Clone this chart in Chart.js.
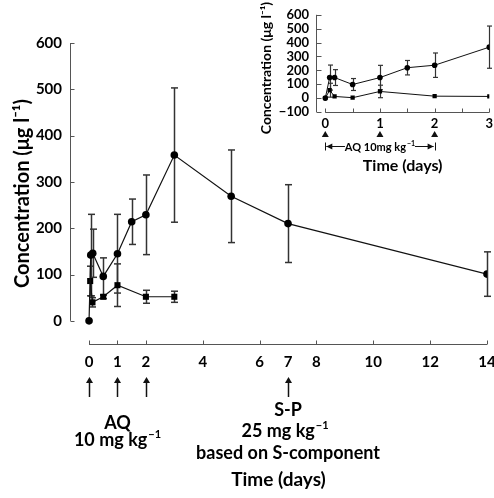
<!DOCTYPE html>
<html>
<head>
<meta charset="utf-8">
<script src="https://cdn.jsdelivr.net/npm/chart.js@4.4.1/dist/chart.umd.min.js"></script>
<style>
    html, body { margin: 0; padding: 0; background: #fff; }
    #wrap { position: relative; width: 494px; height: 498px; }
    #mainChart { position: absolute; left: 0; top: 0; }
    #insetChart { position: absolute; left: 240px; top: 0; }
</style>
</head>
<body>
<div id="wrap">
    <canvas id="mainChart" width="494" height="498"></canvas>
    <canvas id="insetChart" width="254" height="180"></canvas>
</div>
<script>
// Main panel (0-14 days)
const mainCircleDays = [0, 0.06, 0.13, 0.5, 1, 1.5, 2, 3, 5, 7, 14];
const mainCircleConc = [0, 142, 146, 96, 145, 214, 229, 358, 269, 210, 101];
const mainCircleSd = [0, 88, 52, 40, 85, 49, 86, 145, 100, 84, 48];

const mainSquareDays = [0.04, 0.12, 0.5, 1, 2, 3];
const mainSquareConc = [86, 40, 52, 77, 52, 52];
const mainSquareSd = [32, 10, 4, 46, 14, 12];

const mainXTicks = [0, 1, 2, 4, 6, 7, 8, 10, 12, 14];
const mainXMarks = [0, 1, 2, 4, 6, 8, 10, 12, 14];
const mainYTicks = [0, 100, 200, 300, 400, 500, 600];

// Inset panel (0-3 days)
const insetCircleDays = [0, 0.08, 0.17, 0.5, 1, 1.5, 2, 3];
const insetCircleConc = [0, 148, 148, 98, 148, 219, 237, 367];
const insetCircleSd = [0, 90, 57, 43, 88, 52, 88, 152];

const insetSquareDays = [0, 0.08, 0.17, 0.5, 1, 2, 3];
const insetSquareConc = [0, 57, 12, 3, 48, 14, 12];
const insetSquareSd = [0, 50, 0, 0, 45, 0, 0];

const insetXTicks = [0, 1, 2, 3];
const insetXMarks = [0, 0.5, 1, 1.5, 2, 2.5, 3];
const insetYTicks = [-100, 0, 100, 200, 300, 400, 500, 600];

const aqDoseDays = [0, 1, 2];
const spDoseDay = 7;

const FONT = 'Lato';
const yTitle = 'Concentration (μg l⁻¹)';
Chart.defaults.font.family = FONT;
Chart.defaults.color = '#000';

function toPoints(xs, ys) {
    return xs.map((x, i) => ({ x: x, y: ys[i] }));
}

function strokeLine(ctx, x1, y1, x2, y2) {
    ctx.beginPath();
    ctx.moveTo(x1, y1);
    ctx.lineTo(x2, y2);
    ctx.stroke();
}

// text with a raised "−1" after it, centred on cx, baseline at by
function supText(ctx, base, sup, cx, by, size) {
    const supSize = Math.round(size * 0.62);
    ctx.font = 'bold ' + size + 'px ' + FONT;
    const w1 = ctx.measureText(base).width;
    ctx.font = 'bold ' + supSize + 'px ' + FONT;
    const w2 = ctx.measureText(sup).width;
    const left = cx - (w1 + w2 + 1) / 2;
    ctx.textAlign = 'left';
    ctx.textBaseline = 'alphabetic';
    ctx.font = 'bold ' + size + 'px ' + FONT;
    ctx.fillText(base, left, by);
    ctx.font = 'bold ' + supSize + 'px ' + FONT;
    ctx.fillText(sup, left + w1 + 1, by - size * 0.42);
}

function plainText(ctx, text, cx, by, size) {
    ctx.font = 'bold ' + size + 'px ' + FONT;
    ctx.textAlign = 'center';
    ctx.textBaseline = 'alphabetic';
    ctx.fillText(text, cx, by);
}

// error bars drawn under the markers
const errorBars = {
    id: 'errorBars',
    beforeDatasetsDraw(chart) {
        const ctx = chart.ctx;
        const xs = chart.scales.x;
        const ys = chart.scales.y;
        chart.data.datasets.forEach(ds => {
            ctx.save();
            ctx.strokeStyle = '#333';
            ctx.lineWidth = ds.errWidth;
            ds.data.forEach((p, i) => {
                const sd = ds.sd[i];
                if (!sd) return;
                const px = Math.round(xs.getPixelForValue(p.x)) + 0.5;
                const top = ys.getPixelForValue(p.y + sd);
                const bot = ys.getPixelForValue(p.y - sd);
                strokeLine(ctx, px, top, px, bot);
                strokeLine(ctx, px - ds.cap, top, px + ds.cap, top);
                strokeLine(ctx, px - ds.cap, bot, px + ds.cap, bot);
            });
            ctx.restore();
        });
    }
};

const mainDecor = {
    id: 'mainDecor',
    afterDraw(chart) {
        const ctx = chart.ctx;
        const a = chart.chartArea;
        const x = chart.scales.x;
        const y = chart.scales.y;
        ctx.save();
        ctx.strokeStyle = '#555';
        ctx.lineWidth = 1;

        const yl = Math.round(a.left) + 0.5;
        strokeLine(ctx, yl, y.getPixelForValue(600), yl, y.getPixelForValue(0));
        mainYTicks.forEach(v => {
            const py = Math.round(y.getPixelForValue(v)) + 0.5;
            strokeLine(ctx, yl, py, yl + 4, py);
        });

        const xb = Math.round(a.bottom) + 0.5;
        strokeLine(ctx, x.getPixelForValue(0), xb, x.getPixelForValue(14), xb);
        mainXMarks.forEach(v => {
            const px = Math.round(x.getPixelForValue(v)) + 0.5;
            strokeLine(ctx, px, xb, px, xb - 4);
        });

        // dose arrows
        ctx.strokeStyle = '#111';
        ctx.fillStyle = '#111';
        ctx.lineWidth = 1.5;
        aqDoseDays.concat([spDoseDay]).forEach(d => {
            const px = Math.round(x.getPixelForValue(d)) + 0.5;
            const t = a.bottom + 33;
            strokeLine(ctx, px, t + 4, px, a.bottom + 53);
            ctx.beginPath();
            ctx.moveTo(px, t);
            ctx.lineTo(px - 3.5, t + 6);
            ctx.lineTo(px + 3.5, t + 6);
            ctx.closePath();
            ctx.fill();
        });

        ctx.fillStyle = '#000';
        const aqX = x.getPixelForValue(1);
        const spX = x.getPixelForValue(spDoseDay);
        plainText(ctx, 'AQ', aqX, a.bottom + 85, 18);
        supText(ctx, '10 mg kg', '−1', aqX, a.bottom + 102, 18);
        plainText(ctx, 'S-P', spX, a.bottom + 72, 18);
        supText(ctx, '25 mg kg', '−1', spX - 3, a.bottom + 93, 18);
        plainText(ctx, 'based on S-component', spX, a.bottom + 115, 18);
        ctx.restore();
    }
};

const insetDecor = {
    id: 'insetDecor',
    afterDraw(chart) {
        const ctx = chart.ctx;
        const a = chart.chartArea;
        const x = chart.scales.x;
        const y = chart.scales.y;
        ctx.save();
        ctx.strokeStyle = '#555';
        ctx.lineWidth = 1;

        const yl = Math.round(a.left) + 0.5;
        strokeLine(ctx, yl, y.getPixelForValue(600), yl, y.getPixelForValue(-100));
        insetYTicks.forEach(v => {
            const py = Math.round(y.getPixelForValue(v)) + 0.5;
            strokeLine(ctx, yl, py, yl + 5, py);
        });

        const xb = Math.round(a.bottom) + 0.5;
        strokeLine(ctx, x.getPixelForValue(0), xb, x.getPixelForValue(3), xb);
        insetXMarks.forEach(v => {
            const px = Math.round(x.getPixelForValue(v)) + 0.5;
            strokeLine(ctx, px, xb, px, xb - 4);
        });

        // y title, placed a little lower than the axis centre as in the original
        ctx.save();
        ctx.fillStyle = '#000';
        ctx.translate(26, 68);
        ctx.rotate(-Math.PI / 2);
        ctx.font = 'bold 14px ' + FONT;
        ctx.textAlign = 'center';
        ctx.textBaseline = 'middle';
        ctx.fillText(yTitle, 0, 0);
        ctx.restore();

        // dose triangles
        ctx.fillStyle = '#111';
        aqDoseDays.forEach(d => {
            const px = x.getPixelForValue(d);
            ctx.beginPath();
            ctx.moveTo(px, a.bottom + 19);
            ctx.lineTo(px - 3.5, a.bottom + 25);
            ctx.lineTo(px + 3.5, a.bottom + 25);
            ctx.closePath();
            ctx.fill();
        });

        // |<-- AQ 10mg kg-1 -->|
        const by = a.bottom + 34.5;
        const x0 = x.getPixelForValue(0);
        const x2 = x.getPixelForValue(2);
        const cx = x.getPixelForValue(1);
        ctx.strokeStyle = '#111';
        ctx.lineWidth = 1;
        strokeLine(ctx, Math.round(x0) + 0.5, by - 4, Math.round(x0) + 0.5, by + 4);
        strokeLine(ctx, Math.round(x2) + 0.5, by - 4, Math.round(x2) + 0.5, by + 4);
        ctx.fillStyle = '#000';
        supText(ctx, 'AQ 10mg kg', '−1', cx, by + 4, 11);
        const textHalf = 35;
        strokeLine(ctx, x0 + 1, by, cx - textHalf, by);
        strokeLine(ctx, cx + textHalf, by, x2 - 1, by);
        ctx.fillStyle = '#111';
        ctx.beginPath();
        ctx.moveTo(x0 + 1, by);
        ctx.lineTo(x0 + 7, by - 3);
        ctx.lineTo(x0 + 7, by + 3);
        ctx.closePath();
        ctx.fill();
        ctx.beginPath();
        ctx.moveTo(x2 - 1, by);
        ctx.lineTo(x2 - 7, by - 3);
        ctx.lineTo(x2 - 7, by + 3);
        ctx.closePath();
        ctx.fill();
        ctx.restore();
    }
};

function seriesStyle(style, radius, lineWidth, sd, cap, errWidth) {
    return {
        showLine: true,
        borderColor: '#111',
        borderWidth: lineWidth,
        backgroundColor: '#000',
        pointStyle: style,
        pointRadius: radius,
        pointBackgroundColor: '#000',
        pointBorderColor: '#000',
        pointBorderWidth: 0,
        tension: 0,
        sd: sd,
        cap: cap,
        errWidth: errWidth
    };
}

function drawCharts() {
    new Chart(document.getElementById('mainChart'), {
        type: 'scatter',
        data: {
            datasets: [
                Object.assign({ label: 'Circles', data: toPoints(mainCircleDays, mainCircleConc) },
                    seriesStyle('circle', 3.8, 1.2, mainCircleSd, 3.5, 1.5)),
                Object.assign({ label: 'Squares', data: toPoints(mainSquareDays, mainSquareConc) },
                    seriesStyle('rect', 4.3, 1.2, mainSquareSd, 3.5, 1.5))
            ]
        },
        options: {
            responsive: false,
            animation: false,
            layout: { padding: { top: 43, right: 7, left: 0, bottom: 0 } },
            plugins: { legend: { display: false }, tooltip: { enabled: false } },
            scales: {
                x: {
                    type: 'linear',
                    min: -0.67,
                    max: 14,
                    grid: { display: false, drawTicks: false },
                    border: { display: false },
                    afterBuildTicks: s => { s.ticks = mainXTicks.map(v => ({ value: v })); },
                    afterFit: s => { s.height = 154; s.paddingLeft = 0; s.paddingRight = 0; },
                    ticks: {
                        padding: 9,
                        autoSkip: false,
                        maxRotation: 0,
                        font: { size: 15, weight: 'bold' },
                        callback: v => String(v)
                    },
                    title: {
                        display: true,
                        text: 'Time (days)',
                        font: { size: 19, weight: 'bold' },
                        padding: { top: 0, bottom: 7 }
                    }
                },
                y: {
                    type: 'linear',
                    min: -50,
                    max: 600,
                    grid: { display: false, drawTicks: false },
                    border: { display: false },
                    afterBuildTicks: s => { s.ticks = mainYTicks.map(v => ({ value: v })); },
                    afterFit: s => { s.width = 70; },
                    ticks: {
                        padding: 8,
                        autoSkip: false,
                        font: { size: 15, weight: 'bold' },
                        callback: v => String(v)
                    },
                    title: {
                        display: true,
                        text: yTitle,
                        font: { size: 20, weight: 'bold' },
                        padding: { top: 11, bottom: 0 }
                    }
                }
            }
        },
        plugins: [errorBars, mainDecor]
    });

    new Chart(document.getElementById('insetChart'), {
        type: 'scatter',
        data: {
            datasets: [
                Object.assign({ label: 'Circles', data: toPoints(insetCircleDays, insetCircleConc) },
                    seriesStyle('circle', 2.8, 1, insetCircleSd, 2.5, 1.2)),
                Object.assign({ label: 'Squares', data: toPoints(insetSquareDays, insetSquareConc) },
                    seriesStyle('rect', 3, 1, insetSquareSd, 2.5, 1.2))
            ]
        },
        options: {
            responsive: false,
            animation: false,
            layout: { padding: { top: 11.7, right: 4.7, left: 0, bottom: 0 } },
            plugins: { legend: { display: false }, tooltip: { enabled: false } },
            scales: {
                x: {
                    type: 'linear',
                    min: -0.17,
                    max: 3,
                    grid: { display: false, drawTicks: false },
                    border: { display: false },
                    afterBuildTicks: s => { s.ticks = insetXTicks.map(v => ({ value: v })); },
                    afterFit: s => { s.height = 68; s.paddingLeft = 0; s.paddingRight = 0; },
                    ticks: {
                        padding: 4,
                        autoSkip: false,
                        maxRotation: 0,
                        font: { size: 13, weight: 'bold' },
                        callback: v => String(v)
                    },
                    title: {
                        display: true,
                        text: 'Time (days)',
                        font: { size: 16, weight: 'bold' },
                        padding: { top: 0, bottom: 5 }
                    }
                },
                y: {
                    type: 'linear',
                    min: -100,
                    max: 600,
                    grid: { display: false, drawTicks: false },
                    border: { display: false },
                    afterBuildTicks: s => { s.ticks = insetYTicks.map(v => ({ value: v })); },
                    afterFit: s => { s.width = 76; },
                    ticks: {
                        padding: 7,
                        autoSkip: false,
                        font: { size: 13, weight: 'bold' },
                        callback: v => (v < 0 ? '−' + Math.abs(v) : String(v))
                    },
                    title: { display: false }
                }
            }
        },
        plugins: [errorBars, insetDecor]
    });
}

Promise.all([
    document.fonts.load('bold 16px Lato')
]).then(drawCharts, drawCharts);
</script>
</body>
</html>
